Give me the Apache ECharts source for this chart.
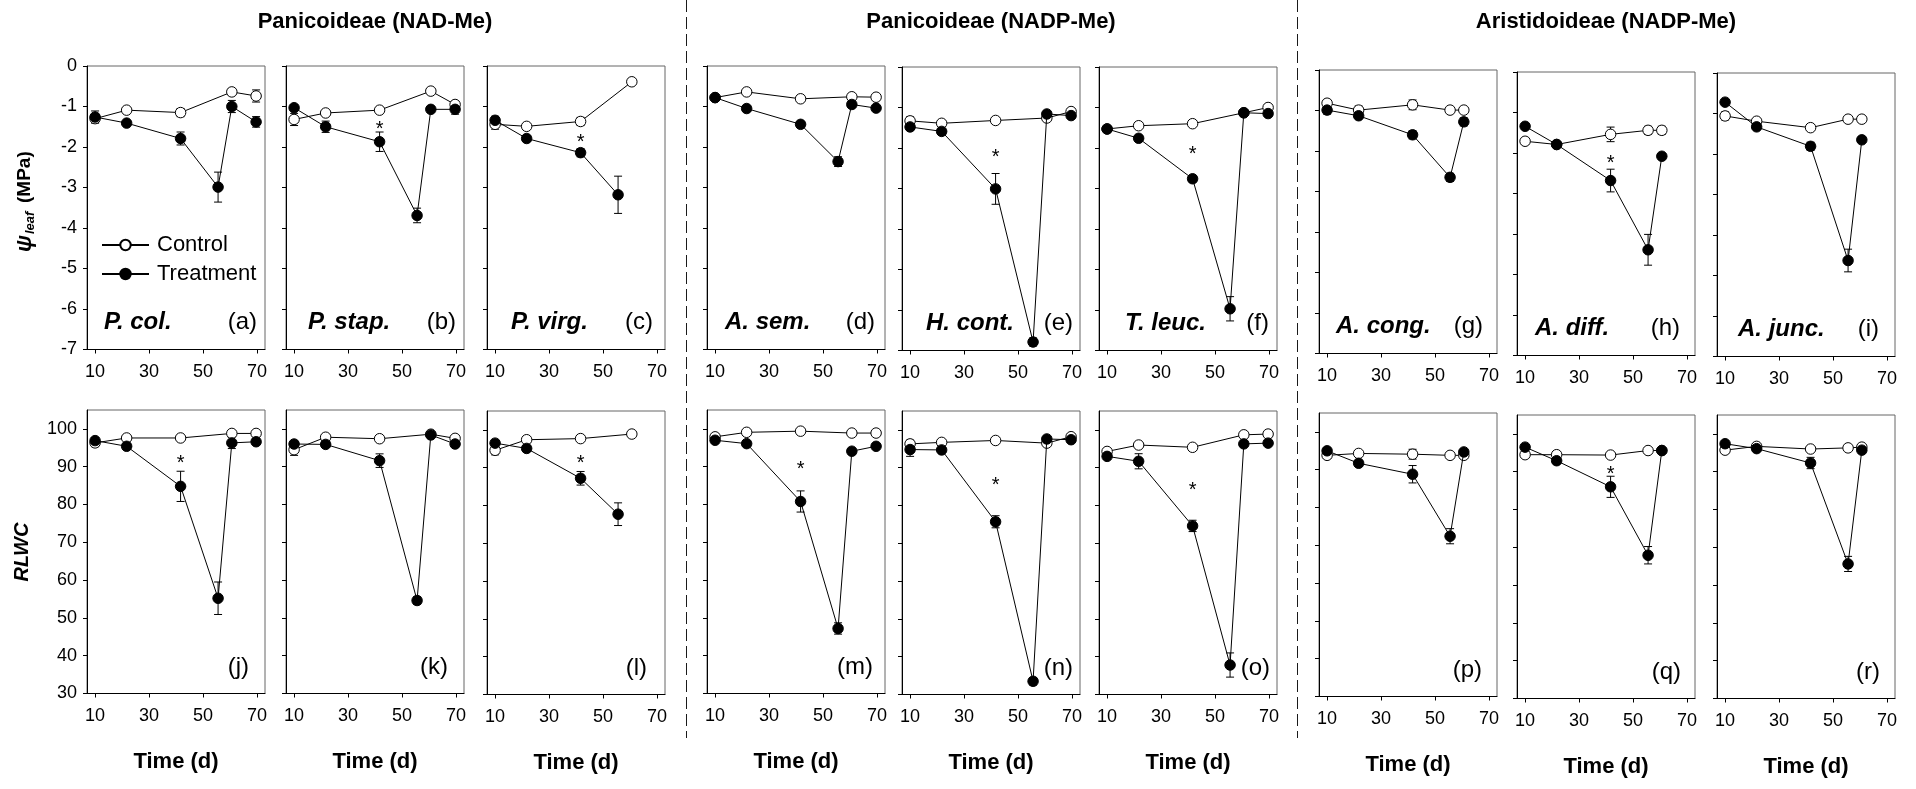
<!DOCTYPE html>
<html>
<head>
<meta charset="utf-8">
<script src="https://cdn.jsdelivr.net/npm/echarts@6/dist/echarts.min.js"></script>
<style>
  html, body { margin: 0; padding: 0; background: #fff; }
  #chart { width: 1916px; height: 789px; }
</style>
</head>
<body>
<div id="chart"></div>
<script>
// Sampling days (d) shared by all species
const days = [10, 21.7, 41.7, 55.6, 60.7, 69.7];
// Day of the significance test marked with an asterisk
const starDay = 41.7;

const groupTitles = ['Panicoideae (NAD-Me)', 'Panicoideae (NADP-Me)', 'Aristidoideae (NADP-Me)'];
const speciesNames = ['P. col.', 'P. stap.', 'P. virg.', 'A. sem.', 'H. cont.', 'T. leuc.', 'A. cong.', 'A. diff.', 'A. junc.'];
const psiLetters = ['(a)', '(b)', '(c)', '(d)', '(e)', '(f)', '(g)', '(h)', '(i)'];
const rlwcLetters = ['(j)', '(k)', '(l)', '(m)', '(n)', '(o)', '(p)', '(q)', '(r)'];

const xTicks = [10, 30, 50, 70];
const psiTicks = [0, -1, -2, -3, -4, -5, -6, -7];
const rlwcTicks = [30, 40, 50, 60, 70, 80, 90, 100];

// Leaf water potential (MPa), one row per species, columns follow `days`
const psiControl = [
  [-1.30, -1.09, -1.15, null, -0.64, -0.74],
  [-1.32, -1.16, -1.09, null, -0.62, -0.95],
  [-1.44, -1.49, -1.37, null, -0.39, null],
  [-0.78, -0.64, -0.81, null, -0.76, -0.77],
  [-1.33, -1.39, -1.32, null, -1.26, -1.10],
  [-1.53, -1.45, -1.40, null, -1.13, -1.00],
  [-0.82, -0.99, -0.86, -0.99, -0.99, null],
  [-1.71, -1.79, -1.54, -1.44, -1.44, null],
  [-1.06, -1.19, -1.35, -1.14, -1.14, null]
];
const psiTreatment = [
  [-1.26, -1.41, -1.79, -2.99, -1.00, -1.38],
  [-1.03, -1.50, -1.87, -3.69, -1.07, -1.07],
  [-1.34, -1.79, -2.14, -3.18, null, null],
  [-0.78, -1.05, -1.44, -2.36, -0.95, -1.04],
  [-1.48, -1.59, -3.01, -6.79, -1.16, -1.20],
  [-1.53, -1.76, -2.76, -5.97, -1.13, -1.15],
  [-0.99, -1.13, -1.60, -2.65, -1.28, null],
  [-1.34, -1.79, -2.68, -4.39, -2.08, null],
  [-0.72, -1.33, -1.81, -4.63, -1.65, null]
];
const psiControlErr = [
  [0.10, 0.05, 0.10, null, 0.08, 0.15],
  [0.15, 0.05, 0.05, null, 0.05, 0.08],
  [0.12, 0.05, 0.10, null, 0.05, null],
  [0.05, 0.05, 0.05, null, 0.05, 0.05],
  [0.10, 0.05, 0.05, null, 0.05, 0.05],
  [0.05, 0.05, 0.05, null, 0.05, 0.05],
  [0.08, 0.10, 0.12, 0.05, 0.05, null],
  [0.08, 0.05, 0.18, 0.10, 0.10, null],
  [0.10, 0.05, 0.05, 0.05, 0.08, null]
];
const psiTreatmentErr = [
  [0.15, 0.06, 0.16, 0.37, 0.15, 0.13],
  [0.06, 0.14, 0.24, 0.18, 0.06, 0.12],
  [0.10, 0.06, 0.10, 0.46, null, null],
  [0.05, 0.05, 0.06, 0.12, 0.05, 0.05],
  [0.08, 0.06, 0.38, 0.10, 0.05, 0.05],
  [0.05, 0.06, 0.08, 0.30, 0.05, 0.05],
  [0.10, 0.06, 0.10, 0.10, 0.10, null],
  [0.06, 0.06, 0.28, 0.38, 0.06, null],
  [0.06, 0.06, 0.10, 0.28, 0.06, null]
];
// Asterisk heights over the treatment point (null = no significant difference)
const psiStars = [null, -1.48, -1.79, null, -2.13, -2.07, null, -2.16, null];

// Relative leaf water content (%)
const rlwcControl = [
  [96.3, 97.6, 97.6, null, 98.8, 98.8],
  [94.5, 97.8, 97.4, null, 98.6, 97.5],
  [94.6, 97.4, 97.7, null, 98.9, null],
  [97.9, 99.1, 99.4, null, 98.9, 98.9],
  [96.3, 96.7, 97.2, null, 96.5, 98.2],
  [94.3, 96.0, 95.4, null, 98.7, 98.9],
  [93.8, 94.3, 94.1, 93.8, 93.8, null],
  [94.5, 94.5, 94.4, 95.6, 95.6, null],
  [95.7, 96.7, 96.0, 96.3, 96.5, null]
];
const rlwcTreatment = [
  [96.9, 95.4, 84.8, 55.2, 96.3, 96.6],
  [96.0, 95.9, 91.6, 54.6, 98.4, 96.0],
  [96.5, 95.1, 87.2, 77.7, null, null],
  [97.0, 96.1, 80.8, 47.2, 94.1, 95.4],
  [94.8, 94.7, 75.7, 33.5, 97.6, 97.4],
  [93.0, 91.7, 74.6, 37.8, 96.3, 96.5],
  [95.0, 91.7, 88.8, 72.4, 94.7, null],
  [96.5, 92.9, 86.0, 67.9, 95.6, null],
  [97.4, 96.1, 92.3, 65.6, 95.7, null]
];
const rlwcControlErr = [
  [1.0, 0.5, 0.5, null, 0.5, 0.5],
  [1.5, 0.5, 0.5, null, 0.5, 0.5],
  [1.2, 0.5, 0.5, null, 0.5, null],
  [0.8, 0.5, 0.5, null, 0.5, 0.5],
  [1.0, 0.5, 0.5, null, 0.5, 0.5],
  [0.8, 0.5, 0.5, null, 0.5, 0.5],
  [0.8, 0.5, 1.3, 0.5, 0.5, null],
  [0.8, 0.5, 0.5, 0.5, 0.5, null],
  [0.8, 0.5, 0.5, 0.5, 0.5, null]
];
const rlwcTreatmentErr = [
  [0.8, 0.8, 4.0, 4.3, 1.5, 0.8],
  [0.8, 0.8, 1.8, 1.0, 0.5, 0.8],
  [0.8, 0.8, 1.8, 3.0, null, null],
  [0.5, 0.5, 2.8, 1.5, 0.8, 0.5],
  [1.8, 0.5, 1.6, 1.0, 0.5, 0.5],
  [0.8, 2.0, 1.5, 3.2, 0.8, 0.5],
  [0.5, 0.8, 2.3, 2.0, 0.5, null],
  [0.5, 0.8, 2.8, 2.3, 0.5, null],
  [0.5, 0.5, 1.5, 2.0, 0.8, null]
];
const rlwcStars = [91.9, null, 92.3, 90.3, 86.3, 85.1, null, 90.3, null];

// ---- panel layout (px) ----
const colLeft = [87, 286, 487, 707, 902, 1099, 1319, 1517, 1717];
const panelW = 178;
const panelH = 283.5;
const topRowTop = [66, 66, 66, 66, 67, 67, 70, 72, 73];
const bottomRowTop = [410, 410, 411, 410, 411, 411, 413, 415, 415];
const speciesPad = [17, 22, 24, 18, 24, 26, 17, 18, 21];
const psiLetterPad = [8, 8, 12, 10, 7, 8, 14, 15, 16];
const rlwcLetterPad = [16, 16, 18, 12, 7, 7, 15, 14, 15];
const dividerX = [686.5, 1297.5];

const FONT = '"Liberation Sans", Arial, Helvetica, sans-serif';

// Tick numbers and panel letters are set in a condensed face when one is installed
function hasFont(name) {
  const ctx = document.createElement('canvas').getContext('2d');
  const probe = '10 30 50 70 (a)(b)(c)';
  ctx.font = '20px monospace';
  const base = ctx.measureText(probe).width;
  ctx.font = '20px "' + name + '", monospace';
  return Math.abs(ctx.measureText(probe).width - base) > 0.5;
}
const HAS_NARROW = hasFont('Liberation Sans Narrow');
const NARROW_FONT = HAS_NARROW ? '"Liberation Sans Narrow", ' + FONT : FONT;
const TICK_SIZE = HAS_NARROW ? 19 : 18;
const LETTER_SIZE = HAS_NARROW ? 28 : 24;

function pairs(vals) {
  const out = [];
  vals.forEach((v, i) => { if (v != null) out.push([days[i], v]); });
  return out;
}
function errRows(vals, errs) {
  const out = [];
  vals.forEach((v, i) => { if (v != null && errs[i]) out.push([days[i], v - errs[i], v + errs[i]]); });
  return out;
}

function renderErrorBar(params, api) {
  const x = api.value(0);
  const lo = api.coord([x, api.value(1)]);
  const hi = api.coord([x, api.value(2)]);
  const hw = 4;
  const style = { stroke: '#000', lineWidth: 1 };
  return {
    type: 'group',
    children: [
      { type: 'line', shape: { x1: lo[0], y1: lo[1], x2: hi[0], y2: hi[1] }, style },
      { type: 'line', shape: { x1: lo[0] - hw, y1: lo[1], x2: lo[0] + hw, y2: lo[1] }, style },
      { type: 'line', shape: { x1: hi[0] - hw, y1: hi[1], x2: hi[0] + hw, y2: hi[1] }, style }
    ]
  };
}

function renderStar(params, api) {
  const p = api.coord([api.value(0), api.value(1)]);
  return {
    type: 'text',
    x: p[0],
    y: p[1] + 4,
    style: { text: '*', fill: '#000', font: '20px ' + FONT, textAlign: 'center', textVerticalAlign: 'middle' }
  };
}

const grids = [], xAxes = [], yAxes = [], series = [], graphics = [];

function addPanel(row, c) {
  const gi = grids.length;
  const isPsi = row === 0;
  const left = colLeft[c];
  const top = isPsi ? topRowTop[c] : bottomRowTop[c];

  grids.push({
    left: left, top: top, width: panelW, height: panelH,
    show: true, borderColor: '#666', borderWidth: 1, backgroundColor: 'transparent',
    containLabel: false, outerBoundsMode: 'none'
  });

  xAxes.push({
    gridIndex: gi, type: 'value', min: 7, max: 73,
    axisLine: { show: true, onZero: false, lineStyle: { color: '#000', width: 1 } },
    axisTick: { show: true, inside: false, length: 4, customValues: xTicks, lineStyle: { color: '#000', width: 1 } },
    axisLabel: { show: true, customValues: xTicks, fontSize: TICK_SIZE, color: '#000', fontFamily: NARROW_FONT, margin: 14 },
    splitLine: { show: false },
    name: isPsi ? '' : 'Time (d)',
    nameLocation: 'middle', nameGap: 57,
    nameTextStyle: { fontSize: 22, fontWeight: 'bold', color: '#000', fontFamily: FONT }
  });

  const ticks = isPsi ? psiTicks : rlwcTicks;
  yAxes.push({
    gridIndex: gi, type: 'value',
    min: isPsi ? -7 : 30, max: isPsi ? 0 : 105,
    axisLine: { show: true, onZero: false, lineStyle: { color: '#000', width: 1 } },
    axisTick: { show: true, inside: false, length: 4, customValues: ticks, lineStyle: { color: '#000', width: 1 } },
    axisLabel: { show: c === 0, customValues: ticks, fontSize: TICK_SIZE, color: '#000', fontFamily: NARROW_FONT, margin: 10 },
    splitLine: { show: false }
  });

  const ctrl = isPsi ? psiControl[c] : rlwcControl[c];
  const trt = isPsi ? psiTreatment[c] : rlwcTreatment[c];
  const ctrlErr = isPsi ? psiControlErr[c] : rlwcControlErr[c];
  const trtErr = isPsi ? psiTreatmentErr[c] : rlwcTreatmentErr[c];
  const star = isPsi ? psiStars[c] : rlwcStars[c];

  series.push({
    type: 'custom', xAxisIndex: gi, yAxisIndex: gi, renderItem: renderErrorBar,
    data: errRows(ctrl, ctrlErr), encode: { x: 0, y: [1, 2] }, z: 2, silent: true
  });
  series.push({
    type: 'custom', xAxisIndex: gi, yAxisIndex: gi, renderItem: renderErrorBar,
    data: errRows(trt, trtErr), encode: { x: 0, y: [1, 2] }, z: 2, silent: true
  });
  series.push({
    type: 'line', name: 'Control', xAxisIndex: gi, yAxisIndex: gi, data: pairs(ctrl),
    symbol: 'circle', symbolSize: 10.5, showSymbol: true,
    itemStyle: { color: '#fff', borderColor: '#000', borderWidth: 1 },
    lineStyle: { color: '#000', width: 1 }, z: 3, silent: true
  });
  series.push({
    type: 'line', name: 'Treatment', xAxisIndex: gi, yAxisIndex: gi, data: pairs(trt),
    symbol: 'circle', symbolSize: 10.5, showSymbol: true,
    itemStyle: { color: '#000', borderColor: '#000', borderWidth: 1 },
    lineStyle: { color: '#000', width: 1 }, z: 4, silent: true
  });
  if (star != null) {
    series.push({
      type: 'custom', xAxisIndex: gi, yAxisIndex: gi, renderItem: renderStar,
      data: [[starDay, star]], encode: { x: 0, y: 1 }, z: 5, silent: true
    });
  }

  // species name and panel letter
  const labelY = top + panelH - (isPsi ? 27 : 26);
  if (isPsi) {
    graphics.push({
      type: 'text', x: left + speciesPad[c], y: labelY,
      style: { text: speciesNames[c], font: 'italic bold 24px ' + FONT, fill: '#000', textAlign: 'left', textVerticalAlign: 'middle' }
    });
  }
  graphics.push({
    type: 'text', x: left + panelW - (isPsi ? psiLetterPad[c] : rlwcLetterPad[c]), y: labelY,
    style: { text: isPsi ? psiLetters[c] : rlwcLetters[c], font: LETTER_SIZE + 'px ' + NARROW_FONT, fill: '#000', textAlign: 'right', textVerticalAlign: 'middle' }
  });
}

for (let c = 0; c < 9; c++) {
  addPanel(0, c);
  addPanel(1, c);
}

// group headings centred over the middle panel of each group of three
groupTitles.forEach((t, g) => {
  const mid = colLeft[g * 3 + 1] + panelW / 2;
  graphics.push({
    type: 'text', x: mid, y: 22,
    style: { text: t, font: 'bold 22px ' + FONT, fill: '#000', textAlign: 'center', textVerticalAlign: 'middle' }
  });
});

// dashed separators between the groups
dividerX.forEach(x => {
  graphics.push({
    type: 'line', shape: { x1: x, y1: 0, x2: x, y2: 738 },
    style: { stroke: '#1a1a1a', lineWidth: 1, lineDash: [12, 5] }
  });
});

// y-axis titles
graphics.push({
  type: 'group', x: 25, y: 252, rotation: Math.PI / 2,
  children: [
    { type: 'text', x: 0, y: 0, style: { text: 'ψ', font: 'italic bold 22px ' + FONT, fill: '#000', textAlign: 'left', textVerticalAlign: 'middle' } },
    { type: 'text', x: 18, y: 5, style: { text: 'leaf', font: 'italic bold 13px ' + FONT, fill: '#000', textAlign: 'left', textVerticalAlign: 'middle' } },
    { type: 'text', x: 49, y: 0, style: { text: '(MPa)', font: 'bold 19px ' + FONT, fill: '#000', textAlign: 'left', textVerticalAlign: 'middle' } }
  ]
});
graphics.push({
  type: 'text', x: 22, y: 552, rotation: Math.PI / 2,
  style: { text: 'RLWC', font: 'italic bold 20px ' + FONT, fill: '#000', textAlign: 'center', textVerticalAlign: 'middle' }
});

const chart = echarts.init(document.getElementById('chart'), null, { renderer: 'canvas' });
chart.setOption({
  backgroundColor: '#fff',
  animation: false,
  textStyle: { fontFamily: FONT },
  legend: {
    data: ['Control', 'Treatment'],
    orient: 'vertical', left: 96, top: 229,
    itemWidth: 47, itemHeight: 13, itemGap: 7,
    selectedMode: false,
    textStyle: { fontSize: 22, color: '#000', fontFamily: FONT, padding: [0, 0, 0, 3] }
  },
  grid: grids,
  xAxis: xAxes,
  yAxis: yAxes,
  series: series,
  graphic: { elements: graphics }
});
</script>
</body>
</html>
